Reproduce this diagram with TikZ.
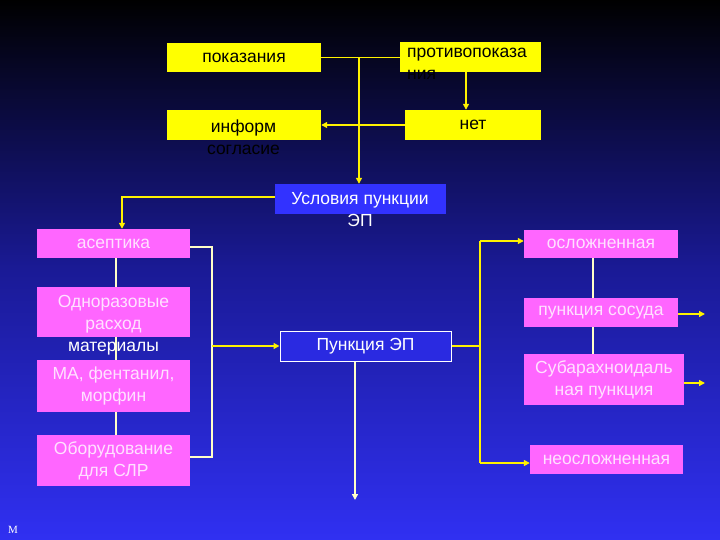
\documentclass[tikz,border=0pt]{standalone}
\usepackage{fontspec}
\setmainfont{Liberation Sans}
\newfontfamily\serifM{Liberation Serif}
\usetikzlibrary{arrows.meta,calc}
\definecolor{bgtop}{RGB}{0,0,0}
\definecolor{bgmid}{RGB}{26,26,150}
\definecolor{bgbot}{RGB}{48,48,242}
\definecolor{ybox}{RGB}{255,255,0}
\definecolor{mbox}{RGB}{255,102,255}
\definecolor{mtext}{RGB}{255,225,255}
\definecolor{ublue}{RGB}{50,50,255}
\definecolor{pblue}{RGB}{42,42,225}
\definecolor{paleline}{RGB}{255,255,200}
\tikzset{
  yb/.style={fill=ybox, draw=none, inner sep=0pt},
  mb/.style={fill=mbox, draw=none, inner sep=0pt, text=mtext, align=center},
  txt/.style={inner sep=0pt},
  conn/.style={draw=yellow, line width=1.4pt},
  pconn/.style={draw=paleline, line width=1.2pt},
  arr/.style={-{Triangle[length=6pt,width=6pt]}, draw=yellow, line width=1.4pt},
}
\begin{document}
\begin{tikzpicture}[x=1pt,y=-1pt, font=\fontsize{17.5}{22}\selectfont]
\shade[top color=bgtop, bottom color=bgbot, middle color=bgmid] (0,0) rectangle (720,540);
\useasboundingbox (0,0) rectangle (720,540);

% yellow boxes
\node[yb, minimum width=154pt, minimum height=29pt] (pok) at (244,57.5) {показания};
\node[yb, minimum width=141pt, minimum height=30pt] (protiv) at (470.5,57) {};
\node[txt, anchor=north west, align=left] (protivt) at (407,48) {противопоказа\\ния};
\node[yb, minimum width=154pt, minimum height=30pt] (inform) at (244,125) {};
\node[txt, align=center] (informt) at (243.5,137) {информ\\согласие};
\node[yb, minimum width=136pt, minimum height=30pt] (net) at (473,125) {нет};

% blue conditions box
\node[fill=ublue, inner sep=0pt, minimum width=171pt, minimum height=30pt] (usl) at (360.5,199) {};
\node[txt, text=white, align=center] (uslt) at (360,210) {Условия пункции\\ЭП};

% left magenta boxes
\node[mb, minimum width=153pt, minimum height=29pt] (asept) at (113.5,243.5) {асептика};
\node[mb, minimum width=153pt, minimum height=50pt] (odnor) at (113.5,312) {};
\node[mb, minimum width=153pt, minimum height=52pt] (ma) at (113.5,386) {МА, фентанил,\\морфин};
\node[mb, minimum width=153pt, minimum height=51pt] (obor) at (113.5,460.5) {Оборудование\\для СЛР};

% center box
\node[fill=pblue, draw=white, line width=1pt, inner sep=0pt, minimum width=171pt, minimum height=30pt, text=white] (punk) at (365.5,346) {Пункция ЭП};

% right magenta boxes
\node[mb, minimum width=154pt, minimum height=28pt] (osl) at (601,244) {осложненная};
\node[mb, minimum width=154pt, minimum height=29pt] (sos) at (601,312.5) {пункция сосуда};
\node[mb, minimum width=160pt, minimum height=51pt] (sub) at (604,379.5) {Субарахноидаль\\ная пункция};
\node[mb, minimum width=153pt, minimum height=29pt] (neosl) at (606.5,459.5) {неосложненная};

% top connectors
\coordinate (j1) at (359,58);
\draw[conn] (pok.east) -- (pok.east -| protiv.west);
\draw[arr] (j1) -- (j1 |- usl.north);
\draw[arr] ($(protiv.south)+(-4.5,0)$) -- ($(protiv.south |- net.north)+(-4.5,0)$);
\draw[arr] (net.west) -- (inform.east);
\coordinate (ua) at (122,197);
\draw[arr] (usl.west |- ua) -- (ua) -- (ua |- asept.north);

% left vertical connectors
\draw[pconn] ($(asept.south)+(2.5,0)$) -- ($(odnor.north)+(2.5,0)$);
\draw[pconn] ($(odnor.south)+(2.5,0)$) -- ($(ma.north)+(2.5,0)$);
\draw[pconn] ($(ma.south)+(2.5,0)$) -- ($(obor.north)+(2.5,0)$);
\node[txt, text=white, align=center] (odnort) at (113.5,325) {\textcolor{mtext}{Одноразовые}\\\textcolor{mtext}{расход}\\материалы};

% bracket to Пункция
\coordinate (bt) at (212,247);
\coordinate (bb) at (212,457);
\draw[pconn] (asept.east |- bt) -- (bt) -- (bb) -- (obor.east |- bb);
\draw[arr] (bt |- punk.west) -- (punk.west);

% down from Пункция
\coordinate (dn) at (355,500);
\draw[arr, draw=paleline] (punk.south -| dn) -- (dn);

% right bracket
\coordinate (rt) at (480,241);
\coordinate (rb) at (480,463);
\draw[conn] (punk.east) -- (punk.east -| rt);
\draw[conn] (rt) -- (rb);
\draw[arr] (rt) -- (rt -| osl.west);
\draw[arr] (rb) -- (rb -| neosl.west);

% right vertical connectors
\coordinate (rv) at (593,0);
\draw[pconn] (osl.south -| rv) -- (sos.north -| rv);
\draw[pconn] (sos.south -| rv) -- (sub.north -| rv);
\coordinate (ae1) at (705,314);
\coordinate (ae2) at (705,383);
\draw[arr] (sos.east |- ae1) -- (ae1);
\draw[arr] (sub.east |- ae2) -- (ae2);

\node[text=white, font=\serifM\fontsize{11}{11}\selectfont, inner sep=0pt] (mm) at (13,530) {M};
\end{tikzpicture}
\end{document}
